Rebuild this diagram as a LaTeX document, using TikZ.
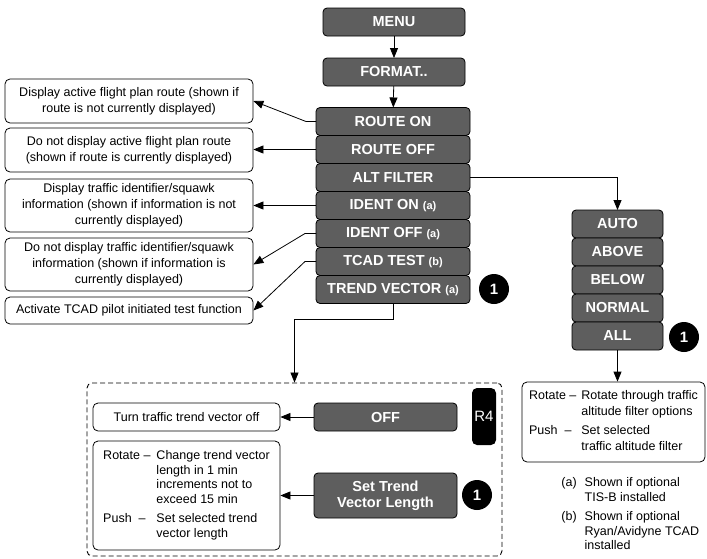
\documentclass[tikz,border=0pt]{standalone}
\usepackage{fontspec}
\setmainfont{Liberation Sans}
\usetikzlibrary{positioning,arrows.meta}
\definecolor{keygray}{RGB}{94,94,94}
\newcommand{\opt}[1]{{\fontsize{11}{12}\selectfont(#1)}}

\begin{document}
\begin{tikzpicture}[x=1pt, y=-1pt, line width=0.8pt,
  >={Triangle[length=10pt,width=8pt]},
  every node/.style={font=\fontsize{12.5}{16}\selectfont},
  key/.style={draw, fill=keygray, rounded corners=4pt, text=white,
    font=\fontsize{14.5}{16}\selectfont\bfseries, align=center,
    minimum width=154pt, minimum height=28pt, inner sep=0pt, outer sep=0pt},
  subkey/.style={key, minimum width=91pt},
  badge/.style={circle, fill=black, text=white, minimum size=30pt, inner sep=0pt,
    font=\fontsize{15}{16}\selectfont\bfseries},
  info/.style={draw, rounded corners=5pt, align=center, minimum width=248pt,
    inner sep=2pt},
  note/.style={draw, rounded corners=5pt, inner sep=4pt}]
  \useasboundingbox (0,0) rectangle (707,558);
  % main menu keys
  \node[key, minimum width=142pt] (menu) at (394,22) {MENU};
  \node[key, minimum width=142pt] (format) at (394,72) {FORMAT..};
  \node[key] (routeon) at (393,121.5) {ROUTE ON};
  \node[key, below=0pt of routeon] (routeoff) {ROUTE OFF};
  \node[key, below=0pt of routeoff] (altfilter) {ALT FILTER};
  \node[key, below=0pt of altfilter] (identon) {IDENT ON \opt{a}};
  \node[key, below=0pt of identon] (identoff) {IDENT OFF \opt{a}};
  \node[key, below=0pt of identoff] (tcadtest) {TCAD TEST \opt{b}};
  \node[key, below=0pt of tcadtest] (trend) {TREND VECTOR \opt{a}};
  \node[badge] (badgetrend) at (494,289) {1};
  \draw[->] (menu) -- (format);
  \draw[->] (format) -- (routeon);
  % descriptions on the left
  \node[info, minimum height=44pt] (info1) at (129,101)
    {Display active flight plan route (shown if\\route is not currently displayed)};
  \node[info, minimum height=44pt] (info2) at (129,150)
    {Do not display active flight plan route\\(shown if route is currently displayed)};
  \node[info, minimum height=53pt] (info3) at (129,205.5)
    {Display traffic identifier/squawk\\information (shown if information is not\\currently displayed)};
  \node[info, minimum height=53pt] (info4) at (129,264.5)
    {Do not display traffic identifier/squawk\\information (shown if information is\\currently displayed)};
  \node[info, minimum height=27pt] (info5) at (129,310.5)
    {Activate TCAD pilot initiated test function};
  \draw[->] (routeon.west) -- ++(-10,0) -- (info1.east);
  \draw[->] (routeoff.west) -- (routeoff.west -| info2.east);
  \draw[->] (identon.west) -- (identon.west -| info3.east);
  \draw[->] (identoff.west) -- ++(-11,0) -- (info4.east);
  \draw[->] (tcadtest.west) -- ++(-11,0) -- (info5.east);
  % altitude filter keys
  \node[subkey] (auto) at (617.5,224) {AUTO};
  \node[subkey, below=0pt of auto] (above) {ABOVE};
  \node[subkey, below=0pt of above] (below) {BELOW};
  \node[subkey, below=0pt of below] (normal) {NORMAL};
  \node[subkey, below=0pt of normal] (all) {ALL};
  \node[badge] (badgeall) at (684,337) {1};
  \draw[->] (altfilter.east) -| (auto.north);
  \node[note, minimum width=183pt, minimum height=80pt] (filternote) at (613.5,422)
    {\fontsize{12.5}{16}\selectfont
     \begin{tabular}{@{}l@{\hspace{5pt}}l@{}}
       Rotate -- & Rotate through traffic\\
                 & altitude filter options\\[3pt]
       Push \ -- & Set selected\\
                 & traffic altitude filter
     \end{tabular}};
  \draw[->] (all.south) -- (all.south |- filternote.north);
  \node[anchor=north west, inner sep=0pt] (footnotes) at (561,476)
    {\fontsize{12.5}{14.5}\selectfont
     \begin{tabular}{@{}l@{\hspace{8pt}}l@{}}
       (a) & Shown if optional\\
           & TIS-B installed\\[5pt]
       (b) & Shown if optional\\
           & Ryan/Avidyne TCAD\\
           & installed
     \end{tabular}};
  % trend vector page
  \node[draw, dashed, line width=0.9pt, dash pattern=on 5pt off 3pt, rounded corners=5pt,
    minimum width=415pt, minimum height=173pt] (trendbox) at (294.5,469.5) {};
  \draw[->] (trend.south) -- ++(0,16) -| (trendbox.north);
  \node[key, minimum width=143pt] (off) at (385.5,417) {OFF};
  \node[key, minimum width=143pt, minimum height=45pt] (settrend) at (385.5,495.5)
    {Set Trend\\Vector Length};
  \node[fill=black, rounded corners=5pt, text=white, minimum width=24pt,
    minimum height=57pt, inner sep=0pt, font=\fontsize{15}{16}\selectfont] (rfour)
    at (484,416.5) {R4};
  \node[badge] (badgeset) at (477,495) {1};
  \node[note, minimum width=187pt, minimum height=28pt] (offnote) at (186.5,417)
    {Turn traffic trend vector off};
  \node[note, minimum width=187pt, minimum height=109pt] (lengthnote) at (186.5,495.5)
    {\fontsize{12.5}{14.5}\selectfont
     \begin{tabular}{@{}l@{\hspace{6pt}}l@{}}
       Rotate -- & Change trend vector\\
                 & length in 1 min\\
                 & increments not to\\
                 & exceed 15 min\\[5pt]
       Push \ -- & Set selected trend\\
                 & vector length
     \end{tabular}};
  \draw[->] (off.west) -- (off.west -| offnote.east);
  \draw[->] (settrend.west) -- (settrend.west -| lengthnote.east);
\end{tikzpicture}
\end{document}
